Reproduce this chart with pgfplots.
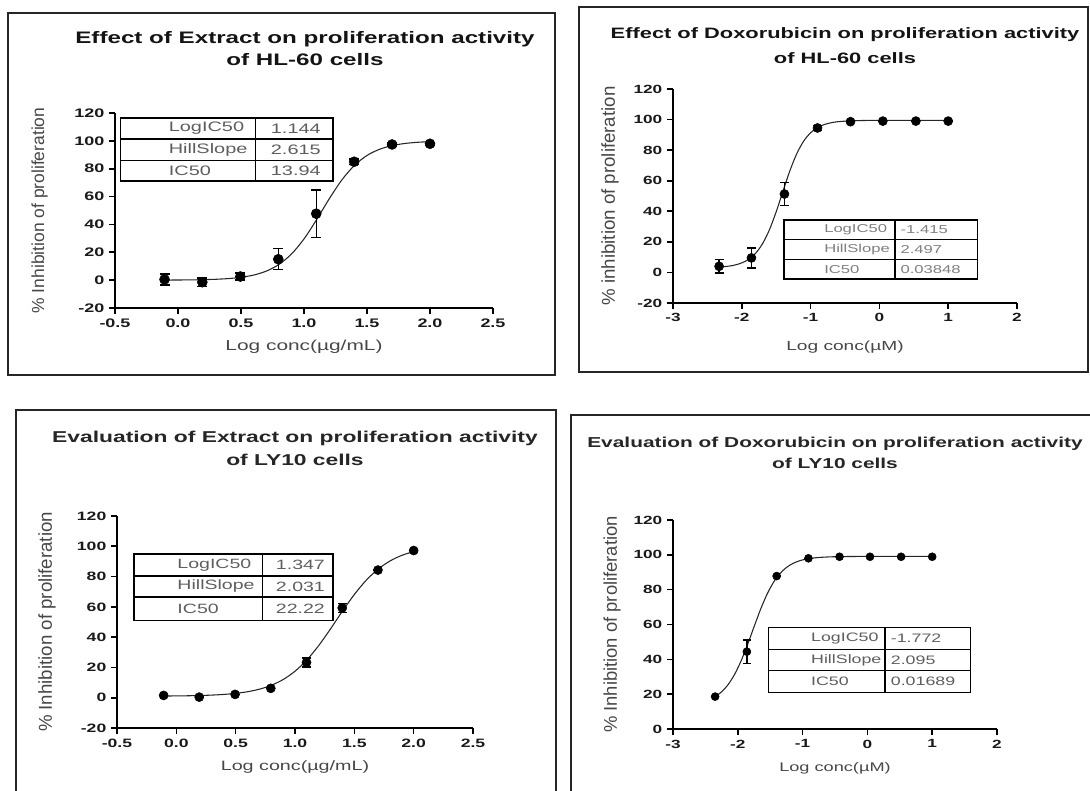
\documentclass[border=0pt]{standalone}
\usepackage{pgfplots}
\pgfplotsset{compat=1.18}
\usepackage{fontspec}
\setmainfont{Liberation Sans}[FakeStretch=1.45]
\newfontfamily\ylabfont{Liberation Sans}
\definecolor{tickc}{HTML}{1A1A1A}
\definecolor{labc}{HTML}{474747}
\definecolor{tabc}{HTML}{5E5E5E}
\definecolor{framec}{HTML}{262626}

\tikzset{
  tabbox/.style={draw=black, line width=1.1pt, fill=white},
  tabline/.style={draw=black, line width=1.1pt},
}
\pgfplotsset{
  panel/.style={
    scale only axis,
    anchor=south west,
    axis lines=left,
    axis line style={-, line width=1.5pt, black},
    tick align=outside,
    major tick length=4.5pt,
    tick style={line width=1.2pt, black},
    clip=false,
    xlabel style={at={(axis description cs:0.5,0)}, anchor=center, text=labc},
    ylabel style={at={(axis description cs:0,0.5)}, anchor=center, text=labc},
    tick label style={text=tickc},
  },
  pts/.style={only marks, mark=*, mark size=#1, black,
    error bars/.cd, y dir=both, y explicit,
    error bar style={line width=1pt, black},
    error mark options={rotate=90, mark size=#1, line width=1pt, black}},
  fit/.style={black!85, line width=0.8pt, smooth, no marks},
}

\begin{document}
\begin{tikzpicture}[x=0.75pt,y=0.75pt]
\useasboundingbox (0,0) rectangle (1090,790);

% panel frames
\draw[line width=1.3pt, framec] (8,415) rectangle (555,777);
\draw[line width=1.3pt, framec] (579,418) rectangle (1088,783);
\draw[line width=1.3pt, framec] (16,-10) rectangle (556,380);
\draw[line width=1.3pt, framec] (571,-10) rectangle (1100,375);

% titles
\node[align=center, font=\bfseries\fontsize{12.5}{16.5}\selectfont, text=black!92] at (305,741) {Effect of Extract on proliferation activity\\of HL-60 cells};
\node[align=center, font=\bfseries\fontsize{11.3}{18.75}\selectfont, text=black!92] at (845,744.5) {Effect of Doxorubicin on proliferation activity\\of HL-60 cells};
\node[align=center, font=\bfseries\fontsize{11.8}{17.25}\selectfont, text=black!85] at (295,341.5) {Evaluation of Extract on proliferation activity\\of LY10 cells};
\node[align=center, font=\bfseries\fontsize{10.8}{15.75}\selectfont, text=black!85] at (835,337.5) {Evaluation of Doxorubicin on proliferation activity\\of LY10 cells};

% ---------------- Panel 1 ----------------
\begin{axis}[panel, at={(86.25pt,361.5pt)}, width=283.5pt, height=146.25pt,
  xmin=-0.5, xmax=2.5, ymin=-20, ymax=120,
  xtick={-0.5,0,0.5,1,1.5,2,2.5}, xticklabels={-0.5,0.0,0.5,1.0,1.5,2.0,2.5},
  ytick={-20,0,20,40,60,80,100,120}, yticklabels={-20,0,20,40,60,80,100,120},
  tick label style={font=\bfseries\fontsize{9.3}{11}\selectfont},
  xlabel={Log conc(\textmu g/mL)}, xlabel style={yshift=-29.25pt, font=\fontsize{10.8}{12}\selectfont},
  ylabel={\% Inhibition of proliferation}, ylabel style={yshift=56.6pt, font=\ylabfont\fontsize{13.1}{15}\selectfont},
]
\draw[tabbox] (axis cs:-0.455,116.4) rectangle (axis cs:1.23,71.1);
\draw[tabline] (axis cs:-0.455,101.4) -- (axis cs:1.23,101.4);
\draw[tabline] (axis cs:-0.455,85.9) -- (axis cs:1.23,85.9);
\draw[tabline] (axis cs:0.614,116.4) -- (axis cs:0.614,71.1);
\begin{scope}[font=\fontsize{10.3}{12}\selectfont, text=tabc]
\node[anchor=west] at (axis cs:-0.11,108.9) {LogIC50};
\node[anchor=west] at (axis cs:-0.11,93.65) {HillSlope};
\node[anchor=west] at (axis cs:-0.11,78.5) {IC50};
\node[anchor=west] at (axis cs:0.70,108.9) {1.144};
\node[anchor=west] at (axis cs:0.70,93.65) {2.615};
\node[anchor=west] at (axis cs:0.70,78.5) {13.94};
\end{scope}
\addplot[fit] coordinates {
(-0.107,0.056) (0,0.10) (0.1,0.19) (0.2,0.34) (0.3,0.62) (0.4,1.12) (0.5,2.03)
(0.6,3.64) (0.7,6.46) (0.8,11.19) (0.9,18.70) (1.0,29.59) (1.1,43.42) (1.2,58.34)
(1.3,71.89) (1.4,82.36) (1.5,89.51) (1.6,93.97) (1.7,96.60) (1.8,98.11) (1.9,98.96) (2.0,99.43)};
\addplot[pts=3.75pt] table[x=x, y=y, y error=e] {
x y e
-0.107 0.5 4
0.193 -1.5 3
0.495 2.6 2.5
0.796 15.0 7.5
1.097 47.7 17
1.398 85.0 2
1.699 97.4 1
2.0 97.9 1
};
\end{axis}

% ---------------- Panel 2 ----------------
\begin{axis}[panel, at={(504.75pt,365.25pt)}, width=258pt, height=160.5pt,
  xmin=-3, xmax=2, ymin=-20, ymax=120,
  xtick={-3,-2,-1,0,1,2}, xticklabels={-3,-2,-1,0,1,2},
  ytick={-20,0,20,40,60,80,100,120}, yticklabels={-20,0,20,40,60,80,100,120},
  tick label style={font=\bfseries\fontsize{8.9}{11}\selectfont},
  xlabel={Log conc(\textmu M)}, xlabel style={yshift=-33pt, font=\fontsize{9.9}{12}\selectfont},
  ylabel={\% inhibition of proliferation}, ylabel style={yshift=47.25pt, font=\ylabfont\fontsize{14}{15}\selectfont},
]
\draw[tabbox] (axis cs:-1.39,34.4) rectangle (axis cs:1.427,-4.2);
\draw[tabline] (axis cs:-1.39,21.7) -- (axis cs:1.427,21.7);
\draw[tabline] (axis cs:-1.39,8.5) -- (axis cs:1.427,8.5);
\draw[tabline] (axis cs:0.228,34.4) -- (axis cs:0.228,-4.2);
\begin{scope}[font=\fontsize{8.6}{10}\selectfont, text=black!50]
\node[anchor=west] at (axis cs:-0.87,28.05) {LogIC50};
\node[anchor=west] at (axis cs:-0.87,15.1) {HillSlope};
\node[anchor=west] at (axis cs:-0.87,2.15) {IC50};
\node[anchor=west] at (axis cs:0.24,28.05) {-1.415};
\node[anchor=west] at (axis cs:0.24,15.1) {2.497};
\node[anchor=west] at (axis cs:0.24,2.15) {0.03848};
\end{scope}
\addplot[fit] coordinates {
(-2.33,3.5) (-2.2,4.05) (-2.1,4.84) (-2.0,6.23) (-1.9,8.59) (-1.8,12.51) (-1.7,18.69)
(-1.6,27.76) (-1.5,39.69) (-1.4,53.33) (-1.3,66.65) (-1.2,77.78) (-1.1,85.95)
(-1.0,91.37) (-0.9,94.75) (-0.8,96.77) (-0.7,97.94) (-0.6,98.62) (-0.4,99.22)
(-0.2,99.41) (0.0,99.47) (0.5,99.5) (1.0,99.5)};
\addplot[pts=3.4pt] table[x=x, y=y, y error=e] {
x y e
-2.33 4.0 4.4
-1.86 9.5 6.5
-1.38 51.3 7.5
-0.90 94.5 1.5
-0.42 98.6 0
0.05 99.0 0
0.53 99.0 0
1.0 99.0 0
};
\end{axis}

% ---------------- Panel 3 ----------------
\begin{axis}[panel, at={(87.75pt,46.5pt)}, width=267pt, height=159pt,
  xmin=-0.5, xmax=2.5, ymin=-20, ymax=120,
  xtick={-0.5,0,0.5,1,1.5,2,2.5}, xticklabels={-0.5,0.0,0.5,1.0,1.5,2.0,2.5},
  ytick={-20,0,20,40,60,80,100,120}, yticklabels={-20,0,20,40,60,80,100,120},
  tick label style={font=\bfseries\fontsize{9.1}{11}\selectfont},
  xlabel={Log conc(\textmu g/mL)}, xlabel style={yshift=-29.25pt, font=\fontsize{10.2}{12}\selectfont},
  ylabel={\% Inhibition of proliferation}, ylabel style={yshift=52.5pt, font=\ylabfont\fontsize{14}{15}\selectfont},
]
\draw[tabbox] (axis cs:-0.355,95.0) rectangle (axis cs:1.32,51.0);
\draw[tabline] (axis cs:-0.355,80.3) -- (axis cs:1.32,80.3);
\draw[tabline] (axis cs:-0.355,66.6) -- (axis cs:1.32,66.6);
\draw[tabline] (axis cs:0.725,95.0) -- (axis cs:0.725,51.0);
\begin{scope}[font=\fontsize{10.1}{12}\selectfont, text=tabc]
\node[anchor=west] at (axis cs:-0.03,87.65) {LogIC50};
\node[anchor=west] at (axis cs:-0.03,73.45) {HillSlope};
\node[anchor=west] at (axis cs:-0.03,58.8) {IC50};
\node[anchor=west] at (axis cs:0.80,87.65) {1.347};
\node[anchor=west] at (axis cs:0.80,73.45) {2.031};
\node[anchor=west] at (axis cs:0.80,58.8) {22.22};
\end{scope}
\addplot[fit] coordinates {
(-0.107,1.12) (0,1.18) (0.1,1.29) (0.2,1.47) (0.3,1.74) (0.4,2.18) (0.5,2.87)
(0.6,3.95) (0.7,5.63) (0.8,8.19) (0.9,12.0) (1.0,17.48) (1.1,24.95) (1.2,34.46)
(1.3,45.52) (1.4,57.2) (1.5,68.16) (1.6,77.55) (1.7,84.9) (1.8,90.27) (1.9,94.0) (2.0,96.5)};
\addplot[pts=3.4pt] table[x=x, y=y, y error=e] {
x y e
-0.107 1.5 0
0.193 0.4 0
0.495 2.2 0
0.796 6.2 0
1.097 23.3 3
1.398 59.3 3
1.699 84.3 0
2.0 97.2 0
};
\end{axis}

% ---------------- Panel 4 ----------------
\begin{axis}[panel, at={(504.75pt,45.75pt)}, width=243pt, height=156.75pt,
  xmin=-3, xmax=2, ymin=0, ymax=120,
  xtick={-3,-2,-1,0,1,2}, xticklabels={-3,-2,-1,0,1,2},
  ytick={0,20,40,60,80,100,120}, yticklabels={0,20,40,60,80,100,120},
  tick label style={font=\bfseries\fontsize{8.9}{11}\selectfont},
  xlabel={Log conc(\textmu M)}, xlabel style={yshift=-29.25pt, font=\fontsize{9.4}{12}\selectfont},
  ylabel={\% Inhibition of proliferation}, ylabel style={yshift=45.75pt, font=\ylabfont\fontsize{13.8}{15}\selectfont},
]
\draw[tabbox] (axis cs:-1.528,58.2) rectangle (axis cs:1.59,21.1);
\draw[tabline] (axis cs:-1.528,45.7) -- (axis cs:1.59,45.7);
\draw[tabline] (axis cs:-1.528,33.5) -- (axis cs:1.59,33.5);
\draw[tabline] (axis cs:0.272,58.2) -- (axis cs:0.272,21.1);
\begin{scope}[font=\fontsize{9.2}{11}\selectfont, text=tabc]
\node[anchor=west] at (axis cs:-0.94,51.95) {LogIC50};
\node[anchor=west] at (axis cs:-0.94,39.6) {HillSlope};
\node[anchor=west] at (axis cs:-0.94,27.3) {IC50};
\node[anchor=west] at (axis cs:0.29,51.95) {-1.772};
\node[anchor=west] at (axis cs:0.29,39.6) {2.095};
\node[anchor=west] at (axis cs:0.29,27.3) {0.01689};
\end{scope}
\addplot[fit] coordinates {
(-2.35,18.55) (-2.25,21.35) (-2.15,25.48) (-2.05,31.32) (-1.95,39.04) (-1.85,48.40)
(-1.75,58.62) (-1.65,68.58) (-1.55,77.28) (-1.45,84.17) (-1.35,89.22) (-1.25,92.72)
(-1.15,95.05) (-1.05,96.55) (-0.95,97.51) (-0.8,98.32) (-0.6,98.8) (-0.4,98.99)
(-0.2,99.06) (0.0,99.08) (0.5,99.1) (1.0,99.1)};
\addplot[pts=3.0pt] table[x=x, y=y, y error=e] {
x y e
-2.35 18.6 0
-1.86 44.4 6.7
-1.40 87.8 0
-0.91 98.0 0
-0.43 98.9 0
0.04 98.9 0
0.52 98.9 0
1.0 98.9 0
};
\end{axis}
\end{tikzpicture}
\end{document}
